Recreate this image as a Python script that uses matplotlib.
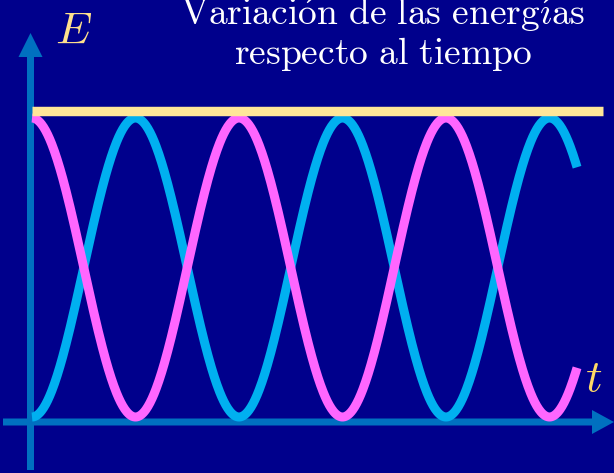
import numpy as np
import matplotlib
matplotlib.use("Agg")
import matplotlib.pyplot as plt
from matplotlib.patches import FancyArrow

plt.rcParams["mathtext.fontset"] = "cm"

# Oscillator parameters (time in units of the energy period)
total_energy = 1.025      # constant mechanical energy
amplitude = 1.0           # peak of kinetic / potential energy
energy_period = 1.0       # period of the energy oscillation
t_end = 2.633             # last time drawn

title_lines = [r"$\mathrm{Variaci\acute{o}n\ de\ las\ energ\acute{\imath}as}$",
               r"$\mathrm{respecto\ al\ tiempo}$"]
y_label = r"$E$"
x_label = r"$t$"

bg = "#00008C"
cyan = "#00B0F0"
magenta = "#FF66FF"
yellow = "#FFE699"
axis_col = "#0070C0"

W, H = 614, 473
fig = plt.figure(figsize=(W / 100, H / 100), dpi=100, facecolor=bg)

# pixel mapping for the data axes
px_t0, px_per = 32.0, 207.0
py_e0, py_per = 417.0, 299.0

ax = fig.add_axes([0, 0, 1, 1])
ax.set_facecolor(bg)
ax.set_xlim((0 - px_t0) / px_per, (W - px_t0) / px_per)
ax.set_ylim((py_e0 - H) / py_per, py_e0 / py_per)
ax.axis("off")

t = np.linspace(0, t_end, 800)
phase = np.pi * t / energy_period
kinetic = amplitude * np.sin(phase) ** 2
potential = amplitude * np.cos(phase) ** 2

# axes arrows and labels in pixel coordinates
deco = fig.add_axes([0, 0, 1, 1], zorder=0)
deco.set_xlim(0, W)
deco.set_ylim(H, 0)
deco.axis("off")
deco.patch.set_alpha(0)
ax.set_zorder(1)
ax.patch.set_alpha(0)

deco.add_patch(FancyArrow(30.5, 470, 0, -437, width=7, head_width=24,
                          head_length=24, length_includes_head=True,
                          color=axis_col, lw=0))
deco.add_patch(FancyArrow(3, 422, 611, 0, width=7, head_width=24,
                          head_length=22, length_includes_head=True,
                          color=axis_col, lw=0))

ax.plot(t, kinetic, color=cyan, lw=6.5, solid_capstyle="butt", zorder=2)
ax.plot(t, potential, color=magenta, lw=6.5, solid_capstyle="butt", zorder=3)
ax.plot([0, (603 - px_t0) / px_per], [total_energy, total_energy],
        color=yellow, lw=6.8, solid_capstyle="butt", zorder=4)

deco.text(74, 31, y_label, color="#FFE08C", fontsize=33, ha="center", va="center")
deco.text(594, 378, x_label, color="#FFD966", fontsize=33, ha="center", va="center")

deco.text(383, 25, title_lines[0], color="white", fontsize=27,
          ha="center", va="baseline")
deco.text(383, 64, title_lines[1], color="white", fontsize=27,
          ha="center", va="baseline")

fig.savefig("out.png", dpi=100, facecolor=bg)
